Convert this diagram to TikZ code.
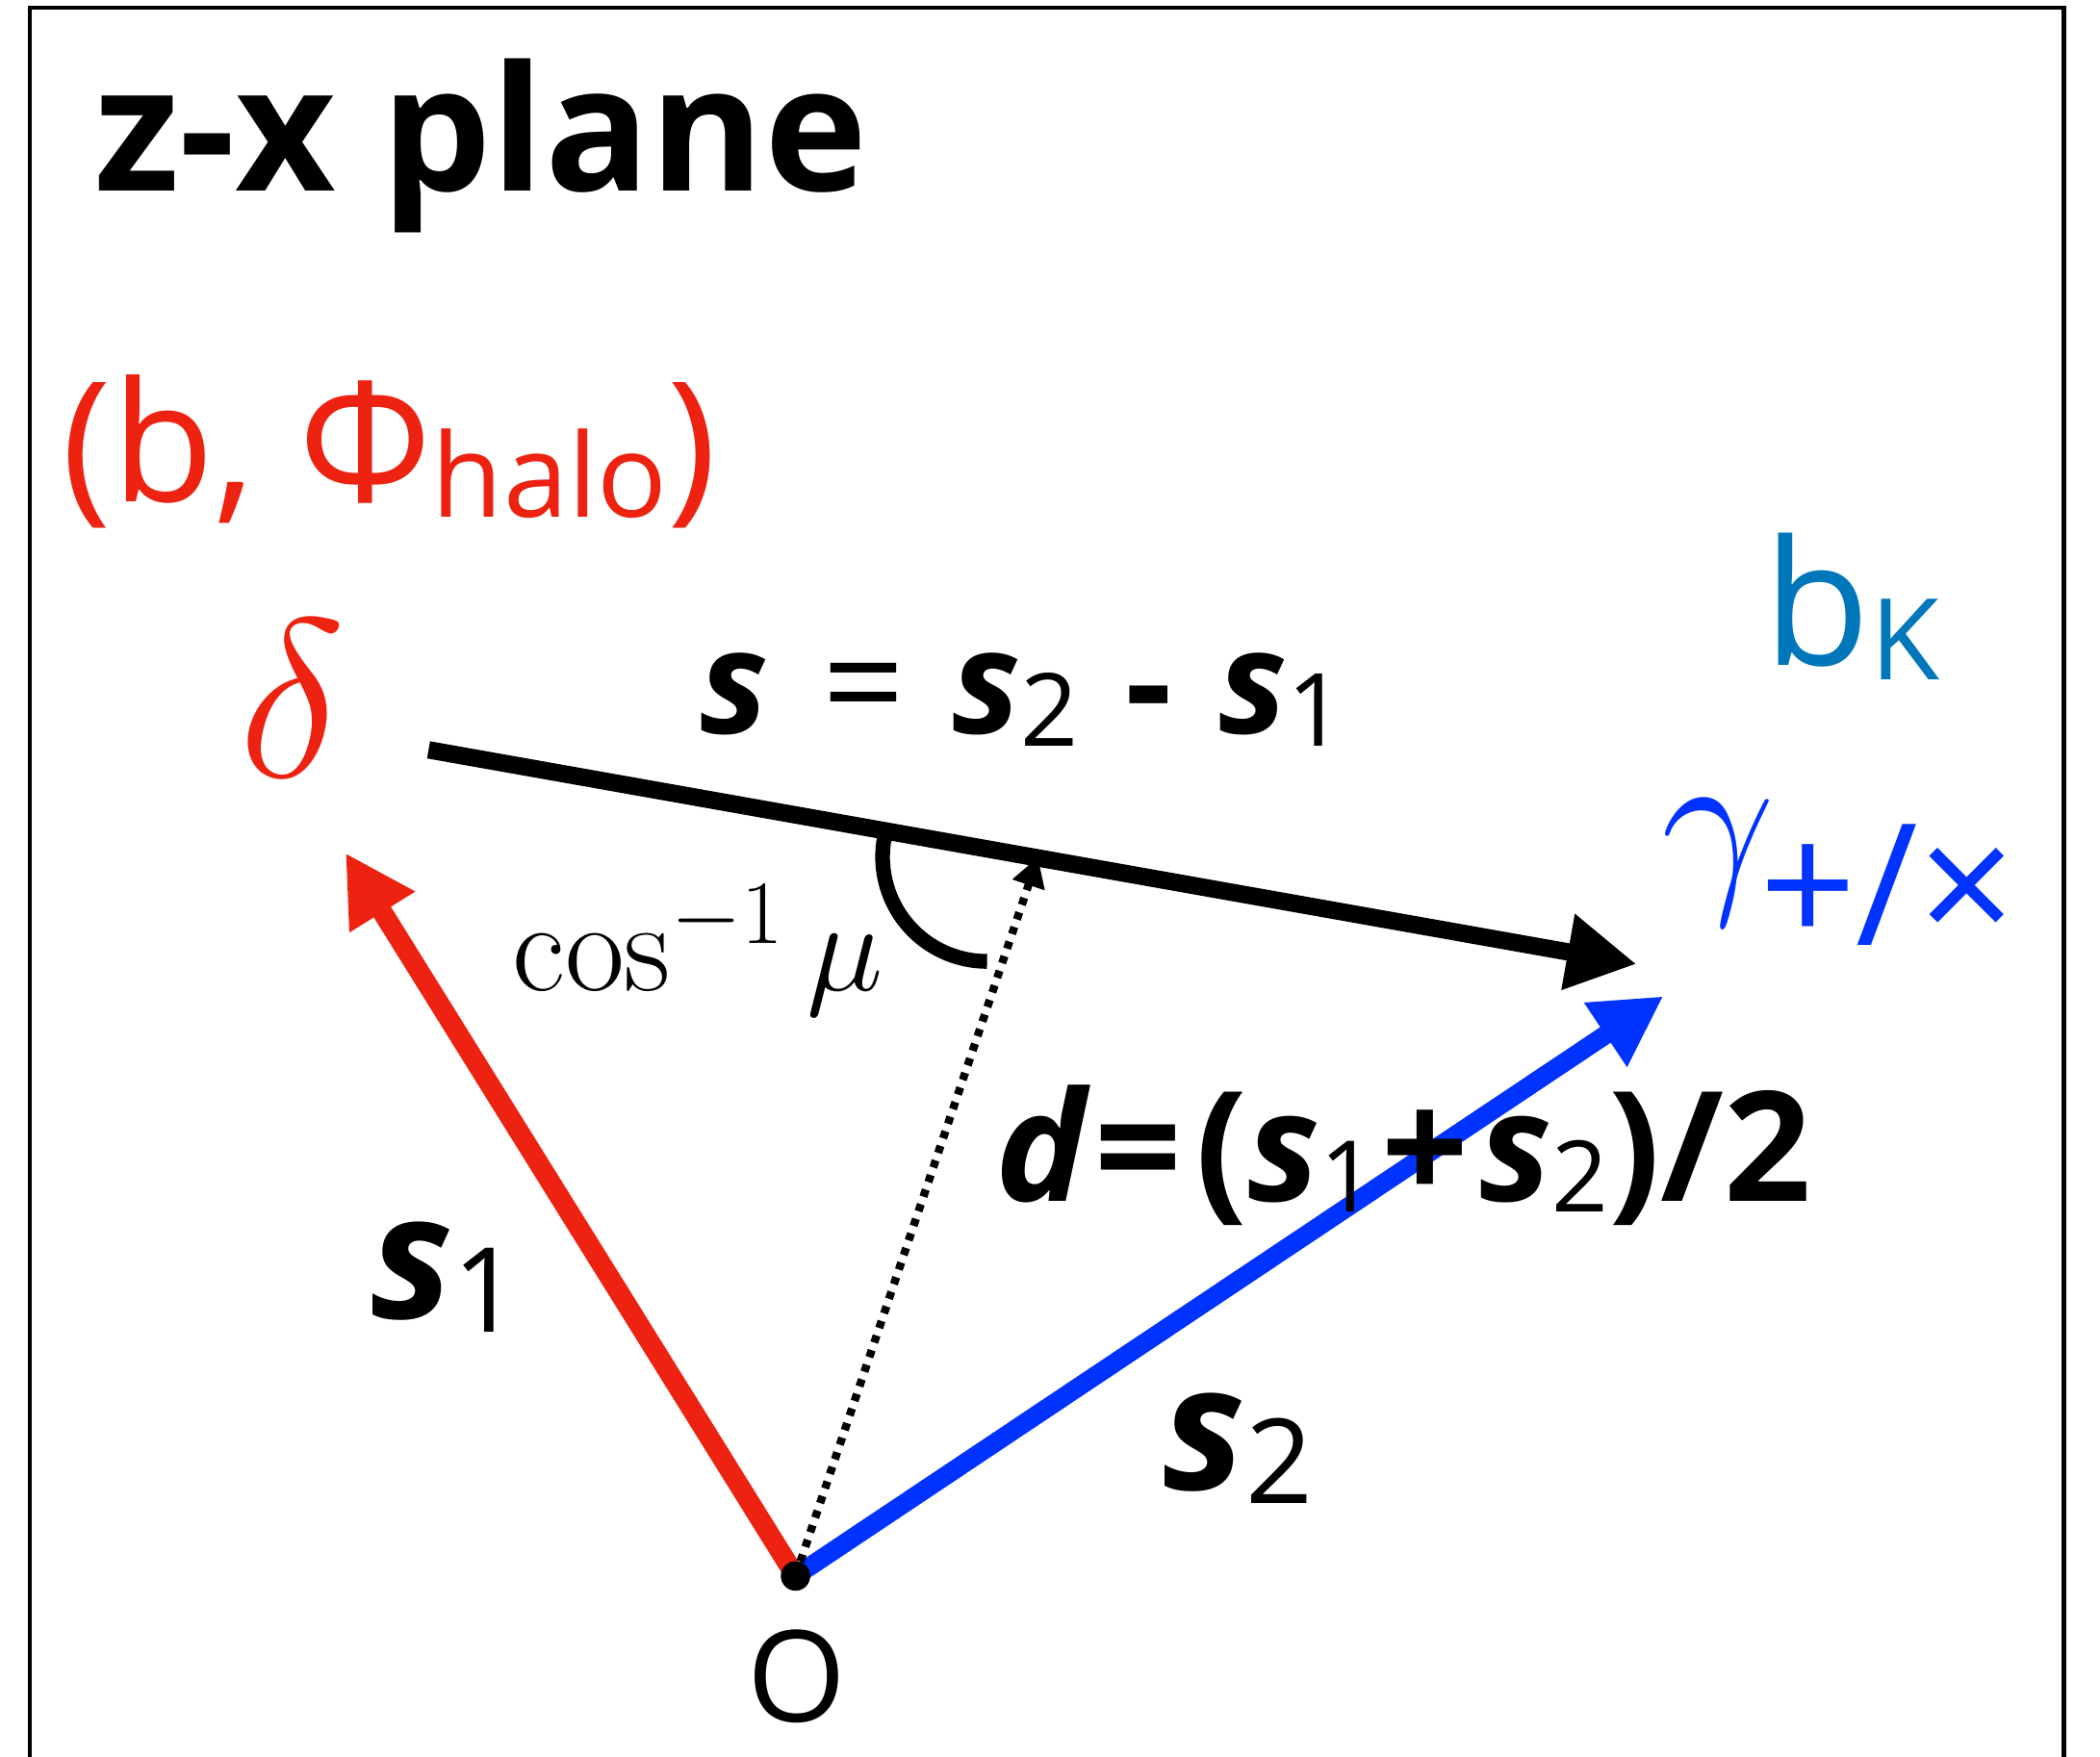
\RequirePackage{fix-cm}
\documentclass[tikz,border=0pt]{standalone}
\usepackage{fontspec}
\usetikzlibrary{arrows.meta,positioning,calc}
\newfontfamily\osans{Open Sans}
\definecolor{vecred}{HTML}{EE2211}
\definecolor{vecblue}{HTML}{0033FF}
\definecolor{kblue}{HTML}{0077BB}
% size, drop, text
\newcommand{\lowtext}[3]{\raisebox{-#2}{\fontsize{#1}{#1}\selectfont #3}}
\newcommand{\bvec}[1]{{\bfseries\itshape #1}}
\tikzset{
  frameline/.style={draw=black, line width=0.3mm},
  vecarrow/.style={-{Triangle[length=5.2mm,width=5.4mm]}},
  vecone/.style={vecarrow, draw=vecred, line width=1.5mm},
  vectwo/.style={vecarrow, draw=vecblue, line width=1.4mm},
  vecsep/.style={vecarrow, draw=black, line width=1.3mm},
  vecmid/.style={line width=0.6mm, dash pattern=on 0.55mm off 0.6mm,
                 -{Triangle[length=2.2mm,width=2.4mm]}},
  anglearc/.style={line width=1.1mm},
  lbl/.style={inner sep=0pt, anchor=base west, font=\osans},
}
\begin{document}
\begin{tikzpicture}[x=0.1mm, y=0.1mm]
  \useasboundingbox (0,0) rectangle (1568,-1312);
  % --- open frame ---
  \draw[frameline] (22,-1312) |- (1541,-6) -- (1541,-1312);

  % --- points ---
  \coordinate (O)      at (594,-1177);
  \coordinate (s1tip)  at (258,-637);
  \coordinate (s2tip)  at (1242,-744);
  \coordinate (sstart) at (320,-560);
  \coordinate (send)   at (1222,-720);
  \coordinate (dtip)   at (775,-640);

  % --- vectors ---
  \draw[vecone] (O) -- (s1tip);
  \draw[vectwo] (O) -- (s2tip);
  \draw[vecsep] (sstart) -- (send);
  \draw[vecmid] (O) -- (dtip);
  \draw[anglearc] ($(737,-640)+(170:78)$) arc[start angle=170, end angle=270, radius=78];
  \fill (O) circle[radius=11];

  % --- labels ---
  \node[lbl, font=\osans\bfseries\fontsize{37}{37}\selectfont] (title) at (70,-143) {z-x plane};
  \node[lbl, text=vecred, font=\osans\fontsize{35.5}{35.5}\selectfont] (halolbl) at (46,-375)
    {(b, Φ\lowtext{24.7}{1.1mm}{halo})};
  \node[lbl, text=vecred, font=\fontsize{48}{48}\selectfont] (deltalbl) at (178,-580) {$\delta$};
  \node[lbl, font=\osans\fontsize{30.8}{30.8}\selectfont] (seplbl) at (522,-548)
    {\bvec{s}\hspace{4mm}=\hspace{3.5mm}\bvec{s}\lowtext{21.5}{0.9mm}{2}\hspace{3.5mm}{\bfseries -}\hspace{3.5mm}\bvec{s}\lowtext{21.5}{0.9mm}{1}};
  \node[lbl, text=kblue, font=\osans\fontsize{37}{37}\selectfont] (kappalbl) at (1316,-497)
    {b\lowtext{24}{1.1mm}{K}};
  \node[lbl, text=vecblue, font=\fontsize{43}{43}\selectfont] (gammalbl) at (1240,-662)
    {$\gamma$\hspace{-1.2mm}\lowtext{36}{4.4mm}{\osans +/×}};
  \node[lbl, font=\fontsize{27.5}{27.5}\selectfont] (coslbl) at (382,-740) {$\cos^{-1}\mu$};
  \node[lbl, font=\osans\bfseries\fontsize{32.5}{32.5}\selectfont] (midlbl) at (743,-897)
    {\bvec{d}\hspace{0.6mm}=\hspace{1mm}(\bvec{s}\lowtext{21}{0.8mm}{\mdseries 1}\hspace{0.4mm}+\hspace{0.8mm}\bvec{s}\lowtext{21}{0.8mm}{\mdseries 2})/2};
  \node[lbl, font=\osans\fontsize{37}{37}\selectfont] (sonelbl) at (276,-985)
    {\bvec{s}\lowtext{25}{1mm}{1}};
  \node[lbl, font=\osans\fontsize{37}{37}\selectfont] (stwolbl) at (868,-1113)
    {\bvec{s}\lowtext{25}{1mm}{2}};
  \node[inner sep=0pt, anchor=base, font=\osans\fontsize{27}{27}\selectfont] (olbl) at (595,-1286) {O};
\end{tikzpicture}
\end{document}
